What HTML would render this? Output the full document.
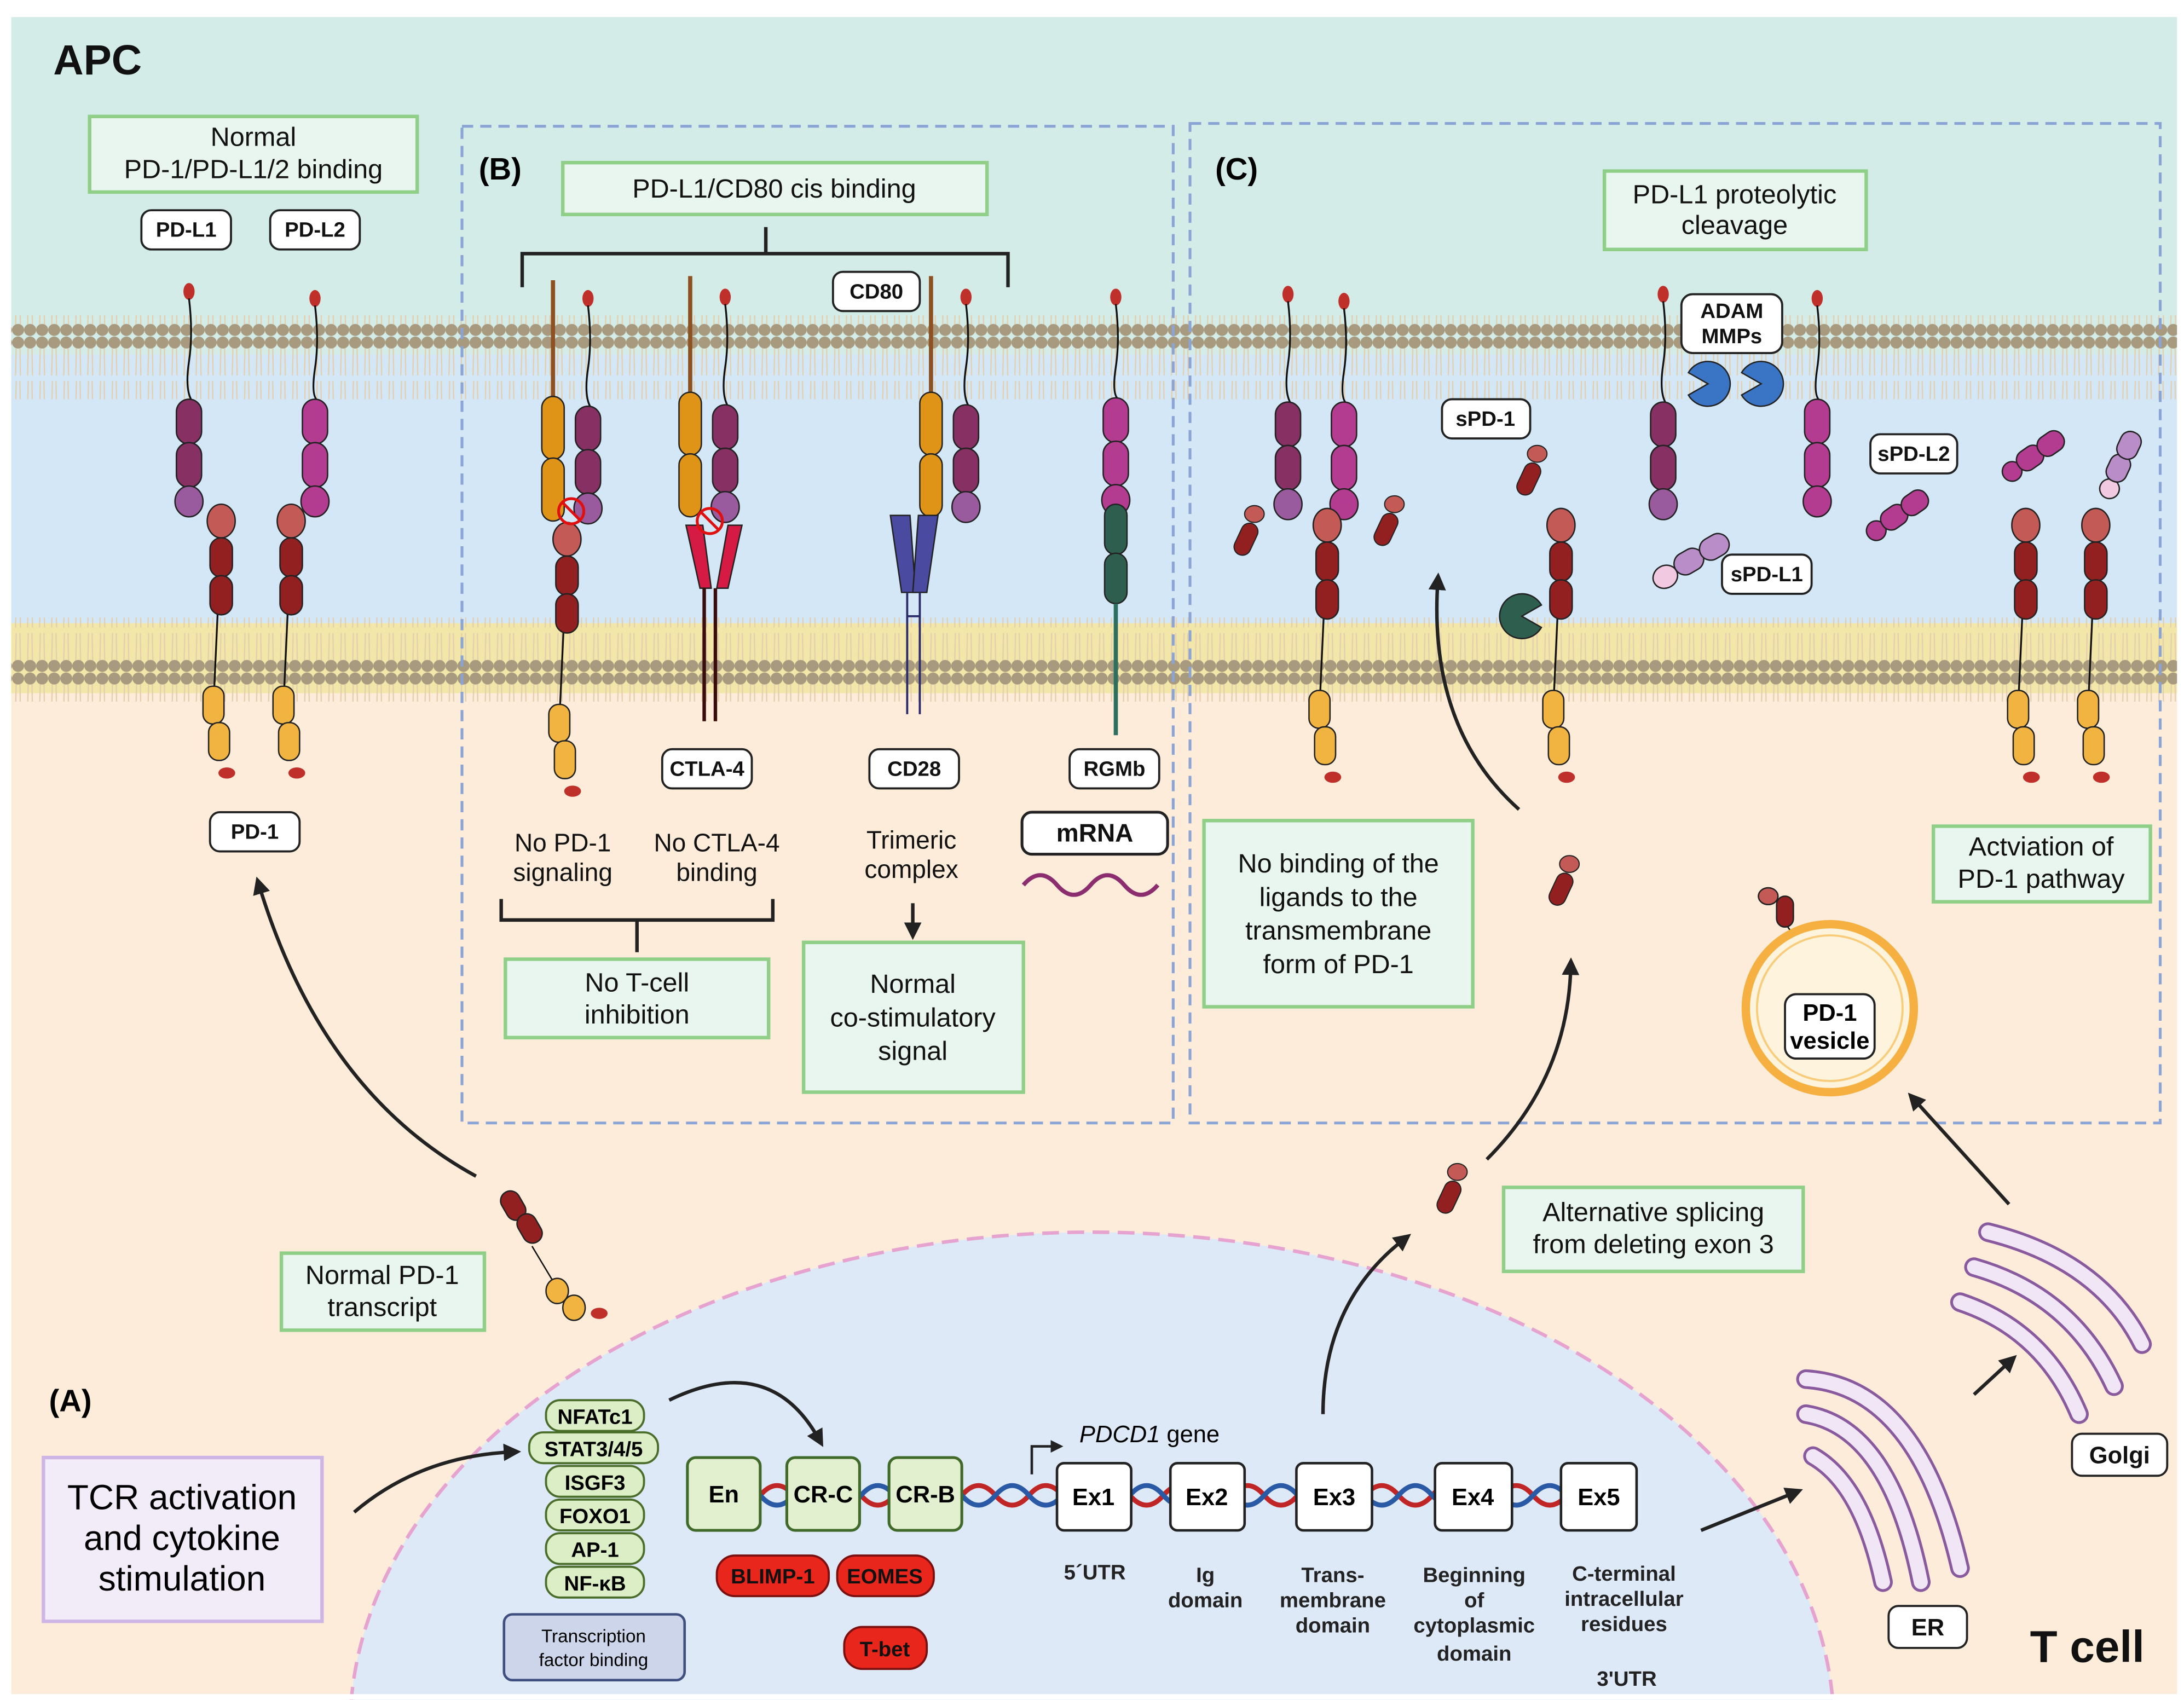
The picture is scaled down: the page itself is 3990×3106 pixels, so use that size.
<!DOCTYPE html>
<html><head><meta charset="utf-8"><style>
html,body{margin:0;padding:0;background:#fff;width:3990px;height:3106px;overflow:hidden}
svg{display:block}
text{font-family:"Liberation Sans",sans-serif}
</style></head><body>
<svg width="3990" height="3106" viewBox="0 0 1560 1214" xmlns="http://www.w3.org/2000/svg">
<defs>
<pattern id="lip" x="0" y="0" width="8.6" height="60" patternUnits="userSpaceOnUse">
<path d="M3 6 L2.5 28 M5.6 6 L6 28 M3 32 L2.5 54 M5.6 32 L6 54" stroke="#e3cfae" stroke-width="0.9" fill="none"/>
<circle cx="4.3" cy="4.5" r="4.3" fill="#a89a7e"/>
<circle cx="4.3" cy="55.5" r="4.3" fill="#a89a7e"/>
</pattern>
<marker id="ah" viewBox="0 0 10 10" refX="5" refY="5" markerWidth="5" markerHeight="5" orient="auto"><path d="M0 0 L10 5 L0 10 z" fill="#222"/></marker>
<g id="pd1">
<line x1="0" y1="10" x2="-5" y2="120" stroke="#111" stroke-width="1.3"/>
<ellipse cx="0" cy="0" rx="10" ry="12" fill="#c45a55" stroke="#222" stroke-width="1"/>
<rect x="-8" y="12" width="16" height="28" rx="8" fill="#922020" stroke="#222" stroke-width="1"/>
<rect x="-8" y="39" width="16" height="28" rx="8" fill="#922020" stroke="#222" stroke-width="1"/>
<rect x="-13" y="118" width="15" height="27" rx="7" fill="#f2b440" stroke="#222" stroke-width="1"/>
<rect x="-9" y="144" width="15" height="27" rx="7" fill="#f2b440" stroke="#222" stroke-width="1"/>
<ellipse cx="4" cy="180" rx="6" ry="4" fill="#c0302a"/>
</g>
<g id="pdl1">
<ellipse cx="0" cy="0" rx="4" ry="6" fill="#c0302a"/>
<path d="M0 5 Q3 30 0 50 T2 78" stroke="#111" stroke-width="1.3" fill="none"/>
<rect x="-9" y="77" width="18" height="32" rx="9" fill="#863064" stroke="#222" stroke-width="1"/>
<rect x="-9" y="108" width="18" height="32" rx="9" fill="#863064" stroke="#222" stroke-width="1"/>
<ellipse cx="0" cy="150" rx="10" ry="11" fill="#9a5a9e" stroke="#222" stroke-width="1"/>
</g>
<g id="pdl2">
<ellipse cx="0" cy="0" rx="4" ry="6" fill="#c0302a"/>
<path d="M0 5 Q3 30 0 50 T2 73" stroke="#111" stroke-width="1.3" fill="none"/>
<rect x="-9" y="72" width="18" height="32" rx="9" fill="#b43c90" stroke="#222" stroke-width="1"/>
<rect x="-9" y="103" width="18" height="32" rx="9" fill="#b43c90" stroke="#222" stroke-width="1"/>
<ellipse cx="0" cy="145" rx="10" ry="11" fill="#b43c90" stroke="#222" stroke-width="1"/>
</g>
<g id="cd80">
<line x1="0" y1="0" x2="0" y2="85" stroke="#8e5222" stroke-width="3"/>
<rect x="-8" y="83" width="16" height="45" rx="8" fill="#df9417" stroke="#222" stroke-width="1"/>
<rect x="-8" y="127" width="16" height="45" rx="8" fill="#df9417" stroke="#222" stroke-width="1"/>
</g>
<g id="sfr">
<rect x="-6" y="-12" width="12" height="24" rx="6" fill="#922020" stroke="#222" stroke-width="0.8" transform="rotate(25)"/>
<ellipse cx="6" cy="-18" rx="7" ry="6" fill="#c45a55" stroke="#222" stroke-width="0.8"/>
</g>
</defs>

<rect width="1560" height="1214" fill="#fff"/>
<rect x="8" y="12" width="1547" height="216" fill="#d3ece8"/>
<rect x="8" y="228" width="1547" height="25" fill="#d3ece8"/>
<rect x="8" y="253" width="1547" height="192" fill="#d3e7f6"/>
<rect x="8" y="445" width="1547" height="50" fill="#f3e6a9"/>
<rect x="8" y="495" width="1547" height="715" fill="#fcecd9"/>
<rect x="8" y="225" width="1547" height="60" fill="url(#lip)"/>
<rect x="8" y="441" width="1547" height="60" fill="url(#lip)"/>

<ellipse cx="780" cy="1235" rx="530" ry="355" fill="#dde9f6" stroke="#e7a3cf" stroke-width="2.5" stroke-dasharray="12 6"/>
<rect x="0" y="1210" width="1560" height="4" fill="#fff"/>

<text x="38" y="53" font-size="30" font-weight="bold" fill="#111">APC</text>
<text x="1450" y="1187" font-size="32" font-weight="bold" fill="#111">T cell</text>

<rect x="330" y="90" width="508" height="712" fill="none" stroke="#8aa4d6" stroke-width="2" stroke-dasharray="8 5"/>
<rect x="850" y="88" width="693" height="714" fill="none" stroke="#8aa4d6" stroke-width="2" stroke-dasharray="8 5"/>
<text x="342" y="128" font-size="22" font-weight="bold">(B)</text>
<text x="868" y="128" font-size="22" font-weight="bold">(C)</text>
<text x="35" y="1008" font-size="22" font-weight="bold">(A)</text>

<g fill="#e9f5ef" stroke="#8fcf87" stroke-width="2.5">
<rect x="64" y="83" width="234" height="54"/>
<rect x="402" y="116" width="303" height="37"/>
<rect x="1146" y="122" width="187" height="56"/>
<rect x="361" y="685" width="188" height="56"/>
<rect x="574" y="673" width="157" height="107"/>
<rect x="860" y="586" width="192" height="133"/>
<rect x="1381" y="590" width="155" height="54"/>
<rect x="201" y="895" width="145" height="55"/>
<rect x="1074" y="848" width="214" height="60"/>
</g>
<g font-size="19" text-anchor="middle" fill="#111">
<text x="181" y="104">Normal</text><text x="181" y="127">PD-1/PD-L1/2 binding</text>
<text x="553" y="141">PD-L1/CD80 cis binding</text>
<text x="1239" y="145">PD-L1 proteolytic</text><text x="1239" y="167">cleavage</text>
<text x="455" y="708">No T-cell</text><text x="455" y="731">inhibition</text>
<text x="652" y="709">Normal</text><text x="652" y="733">co-stimulatory</text><text x="652" y="757">signal</text>
<text x="956" y="623">No binding of the</text><text x="956" y="647">ligands to the</text><text x="956" y="671">transmembrane</text><text x="956" y="695">form of PD-1</text>
<text x="1458" y="611">Actviation of</text><text x="1458" y="634">PD-1 pathway</text>
<text x="273" y="917">Normal PD-1</text><text x="273" y="940">transcript</text>
<text x="1181" y="872">Alternative splicing</text><text x="1181" y="895">from deleting exon 3</text>
<text x="402" y="608" font-size="18">No PD-1</text><text x="402" y="629" font-size="18">signaling</text>
<text x="512" y="608" font-size="18">No CTLA-4</text><text x="512" y="629" font-size="18">binding</text>
<text x="651" y="606" font-size="18">Trimeric</text><text x="651" y="627" font-size="18">complex</text>
</g>

<g fill="#fff" stroke="#222" stroke-width="1.5">
<rect x="101" y="150" width="64" height="28" rx="7"/>
<rect x="193" y="150" width="64" height="28" rx="7"/>
<rect x="150" y="580" width="64" height="28" rx="7"/>
<rect x="595" y="194" width="62" height="28" rx="7"/>
<rect x="473" y="535" width="64" height="28" rx="7"/>
<rect x="621" y="535" width="64" height="28" rx="7"/>
<rect x="764" y="535" width="64" height="28" rx="7"/>
<rect x="730" y="580" width="104" height="30" rx="7" stroke-width="2"/>
<rect x="1030" y="285" width="63" height="28" rx="7"/>
<rect x="1201" y="210" width="72" height="42" rx="8"/>
<rect x="1336" y="310" width="62" height="28" rx="7"/>
<rect x="1230" y="396" width="64" height="28" rx="7"/>
<rect x="1480" y="1024" width="68" height="30" rx="7"/>
<rect x="1349" y="1147" width="56" height="30" rx="7"/>
</g>
<g font-size="15" font-weight="bold" text-anchor="middle" fill="#111">
<text x="133" y="169">PD-L1</text><text x="225" y="169">PD-L2</text><text x="182" y="599">PD-1</text>
<text x="626" y="213">CD80</text><text x="505" y="554">CTLA-4</text><text x="653" y="554">CD28</text><text x="796" y="554">RGMb</text>
<text x="782" y="601" font-size="18">mRNA</text>
<text x="1061" y="304">sPD-1</text><text x="1237" y="227">ADAM</text><text x="1237" y="245">MMPs</text>
<text x="1367" y="329">sPD-L2</text><text x="1262" y="415">sPD-L1</text>
<text x="1514" y="1045" font-size="17">Golgi</text><text x="1377" y="1168" font-size="17">ER</text>
</g>

<path d="M373 205 V181 H720 V205 M547 181 V162" stroke="#222" stroke-width="2.5" fill="none"/>
<path d="M358 642 V657 H552 V642 M455 657 V680" stroke="#222" stroke-width="2.5" fill="none"/>
<path d="M652 645 V665" stroke="#222" stroke-width="2.5" marker-end="url(#ah)"/>
<path d="M731 632 q12 -14 24 0 t24 0 t24 0 t24 0" stroke="#8b2d6e" stroke-width="3" fill="none"/>

<use href="#pdl1" x="135" y="208"/>
<use href="#pdl2" x="225" y="213"/>
<use href="#pd1" x="158" y="372"/>
<use href="#pd1" x="208" y="372"/>

<use href="#cd80" x="395" y="200"/>
<use href="#pdl1" x="420" y="213"/>
<use href="#pd1" x="405" y="385"/>
<circle cx="408" cy="365" r="9" fill="none" stroke="#e01010" stroke-width="2"/><line x1="402" y1="359" x2="414" y2="371" stroke="#e01010" stroke-width="2"/>
<use href="#cd80" x="493" y="197"/>
<use href="#pdl1" x="518" y="212"/>
<path d="M490 375 L500 420 L508 420 L502 375 Z" fill="#d51a44" stroke="#222"/>
<path d="M530 375 L520 420 L512 420 L520 375 Z" fill="#d51a44" stroke="#222"/>
<path d="M503 420 V515 M511 420 V515" stroke="#3a0d0d" stroke-width="2.5"/>
<circle cx="507" cy="372" r="9" fill="none" stroke="#e01010" stroke-width="2"/><line x1="501" y1="366" x2="513" y2="378" stroke="#e01010" stroke-width="2"/>
<use href="#cd80" x="665" y="197"/>
<use href="#pdl1" x="690" y="212"/>
<path d="M636 368 h14 l4 55 h-10 z" fill="#4a4aa0" stroke="#222"/>
<path d="M670 368 h-14 l-4 55 h10 z" fill="#4a4aa0" stroke="#222"/>
<path d="M648 423 V510 M657 423 V510 M648 440 H657" stroke="#2a2a6a" stroke-width="1.5"/>
<use href="#pdl2" x="797" y="212"/>
<rect x="789" y="360" width="16" height="36" rx="8" fill="#2d5e4e" stroke="#222"/>
<rect x="789" y="395" width="16" height="36" rx="8" fill="#2d5e4e" stroke="#222"/>
<line x1="797" y1="431" x2="797" y2="525" stroke="#2d6e5e" stroke-width="3"/>

<use href="#pdl1" x="920" y="210"/>
<use href="#pdl2" x="960" y="215"/>
<use href="#pd1" x="948" y="375"/>
<use href="#sfr" x="890" y="385"/>
<use href="#sfr" x="990" y="378"/>
<use href="#sfr" x="1092" y="342"/>
<use href="#pd1" x="1115" y="375"/>
<path d="M1087 440 m14 -8 a16 16 0 1 0 0 16 L1087 440 Z" fill="#2d5e4e" stroke="#222"/>
<use href="#pdl1" x="1188" y="210"/>
<use href="#pdl2" x="1298" y="213"/>
<path d="M1220 274 m14 -8 a16 16 0 1 0 0 16 L1220 274 Z" fill="#3a74c4" stroke="#222" transform="rotate(180 1220 274)"/>
<path d="M1258 274 m14 -8 a16 16 0 1 0 0 16 L1258 274 Z" fill="#3a74c4" stroke="#222" transform="rotate(180 1258 274)"/>
<g transform="rotate(-30 1200 400)"><ellipse cx="1185" cy="405" rx="9" ry="8" fill="#f1c9e0" stroke="#222"/><rect x="1194" y="396" width="22" height="16" rx="8" fill="#b98dc8" stroke="#222"/><rect x="1215" y="396" width="22" height="16" rx="8" fill="#b98dc8" stroke="#222"/></g>
<g transform="rotate(-35 1350 372)"><ellipse cx="1338" cy="372" rx="7" ry="7" fill="#b43c90" stroke="#222"/><rect x="1344" y="364" width="20" height="15" rx="7" fill="#b43c90" stroke="#222"/><rect x="1362" y="364" width="20" height="15" rx="7" fill="#b43c90" stroke="#222"/></g>
<g transform="rotate(-35 1445 325)"><ellipse cx="1432" cy="330" rx="7" ry="7" fill="#b43c90" stroke="#222"/><rect x="1438" y="322" width="20" height="15" rx="7" fill="#b43c90" stroke="#222"/><rect x="1456" y="322" width="20" height="15" rx="7" fill="#b43c90" stroke="#222"/></g>
<g transform="rotate(-65 1510 335)"><ellipse cx="1496" cy="338" rx="7" ry="7" fill="#f1c9e0" stroke="#222"/><rect x="1502" y="330" width="20" height="15" rx="7" fill="#b98dc8" stroke="#222"/><rect x="1520" y="330" width="20" height="15" rx="7" fill="#b98dc8" stroke="#222"/></g>
<use href="#pd1" x="1447" y="375"/>
<use href="#pd1" x="1497" y="375"/>

<g transform="translate(355,855) rotate(-30)"><rect x="0" y="0" width="14" height="22" rx="7" fill="#922020" stroke="#222"/><rect x="2" y="20" width="14" height="22" rx="7" fill="#922020" stroke="#222"/></g>
<path d="M380 890 L395 915" stroke="#111"/>
<ellipse cx="398" cy="922" rx="8" ry="9" fill="#f2b440" stroke="#222"/><ellipse cx="410" cy="934" rx="8" ry="9" fill="#f2b440" stroke="#222"/><ellipse cx="428" cy="938" rx="6" ry="4" fill="#c0302a"/>
<use href="#sfr" x="1115" y="635"/>
<use href="#sfr" x="1035" y="855"/>
<g transform="translate(1255,640)"><ellipse cx="8" cy="0" rx="7" ry="6" fill="#c45a55" stroke="#222"/><rect x="14" y="0" width="12" height="22" rx="6" fill="#922020" stroke="#222"/><line x1="22" y1="22" x2="35" y2="40" stroke="#111"/><circle cx="42" cy="44" r="7" fill="#f2b440" stroke="#222"/><circle cx="55" cy="48" r="7" fill="#f2b440" stroke="#222"/><ellipse cx="70" cy="45" rx="5" ry="3" fill="#c0302a"/></g>

<circle cx="1307" cy="720" r="60" fill="#fef3dc" stroke="#f5b041" stroke-width="6"/>
<circle cx="1307" cy="720" r="52" fill="none" stroke="#f8cc7a" stroke-width="1.5"/>
<rect x="1275" y="710" width="64" height="46" rx="8" fill="#fff" stroke="#222" stroke-width="1.5"/>
<text x="1307" y="729" font-size="17" font-weight="bold" text-anchor="middle">PD-1</text>
<text x="1307" y="749" font-size="17" font-weight="bold" text-anchor="middle">vesicle</text>

<g stroke="#222" stroke-width="2.5" fill="none" marker-end="url(#ah)">
<path d="M340 840 Q230 780 185 632"/>
<path d="M1085 578 Q1020 520 1027 415"/>
<path d="M1062 828 Q1120 770 1122 690"/>
<path d="M945 1010 Q945 930 1003 885"/>
<path d="M1435 860 L1367 785"/>
<path d="M1215 1093 L1282 1066"/>
<path d="M1410 996 L1436 972"/>
<path d="M253 1080 Q300 1040 366 1037"/>
<path d="M478 1000 Q550 965 585 1028"/>
</g>
<path d="M737 1053 V1033 H755" stroke="#222" stroke-width="1.8" fill="none" marker-end="url(#ah)"/>
<text x="771" y="1030" font-size="17" font-style="italic">PDCD1<tspan font-style="normal"> gene</tspan></text>

<g fill="none" stroke-linecap="round">
<path d="M1420 880 Q1500 900 1530 960" stroke="#8a5a9e" stroke-width="14"/>
<path d="M1420 880 Q1500 900 1530 960" stroke="#f1e6f6" stroke-width="10"/>
<path d="M1410 905 Q1480 925 1510 990" stroke="#8a5a9e" stroke-width="14"/>
<path d="M1410 905 Q1480 925 1510 990" stroke="#f1e6f6" stroke-width="10"/>
<path d="M1400 930 Q1460 950 1485 1010" stroke="#8a5a9e" stroke-width="14"/>
<path d="M1400 930 Q1460 950 1485 1010" stroke="#f1e6f6" stroke-width="10"/>
<path d="M1290 985 Q1370 990 1400 1120" stroke="#8a5a9e" stroke-width="14"/>
<path d="M1290 985 Q1370 990 1400 1120" stroke="#f1e6f6" stroke-width="10"/>
<path d="M1290 1010 Q1350 1020 1372 1130" stroke="#8a5a9e" stroke-width="14"/>
<path d="M1290 1010 Q1350 1020 1372 1130" stroke="#f1e6f6" stroke-width="10"/>
<path d="M1295 1040 Q1330 1060 1345 1130" stroke="#8a5a9e" stroke-width="14"/>
<path d="M1295 1040 Q1330 1060 1345 1130" stroke="#f1e6f6" stroke-width="10"/>
</g>

<rect x="31" y="1041" width="199" height="117" fill="#f2ecf8" stroke="#cdb6e6" stroke-width="2.5"/>
<g font-size="25" text-anchor="middle"><text x="130" y="1078">TCR activation</text><text x="130" y="1107">and cytokine</text><text x="130" y="1136">stimulation</text></g>

<g fill="#dbeec5" stroke="#4a6e2a" stroke-width="1.5">
<rect x="390" y="1000" width="70" height="22" rx="10"/>
<rect x="378" y="1023" width="92" height="22" rx="10"/>
<rect x="390" y="1047" width="70" height="22" rx="10"/>
<rect x="390" y="1071" width="70" height="22" rx="10"/>
<rect x="390" y="1095" width="70" height="22" rx="10"/>
<rect x="390" y="1119" width="70" height="22" rx="10"/>
</g>
<g font-size="15" font-weight="bold" text-anchor="middle">
<text x="425" y="1017">NFATc1</text><text x="424" y="1040">STAT3/4/5</text><text x="425" y="1064">ISGF3</text><text x="425" y="1088">FOXO1</text><text x="425" y="1112">AP-1</text><text x="425" y="1136">NF-κB</text>
</g>
<rect x="360" y="1153" width="129" height="47" rx="6" fill="#ccd5ea" stroke="#3f4f7f" stroke-width="1.8"/>
<text x="424" y="1173" font-size="13" text-anchor="middle">Transcription</text><text x="424" y="1190" font-size="13" text-anchor="middle">factor binding</text>

<path d="M543 1068 q12 -14 24 0 t24 0 t24 0 t24 0 t24 0 t24 0 t24 0 t24 0 t24 0 t24 0 t24 0 t24 0 t24 0 t24 0 t24 0 t24 0 t24 0 t24 0 t24 0 t24 0 t24 0 t24 0 t24 0 t24 0" stroke="#c02626" stroke-width="3.5" fill="none"/>
<path d="M543 1068 q12 14 24 0 t24 0 t24 0 t24 0 t24 0 t24 0 t24 0 t24 0 t24 0 t24 0 t24 0 t24 0 t24 0 t24 0 t24 0 t24 0 t24 0 t24 0 t24 0 t24 0 t24 0 t24 0 t24 0 t24 0" stroke="#2a5aa6" stroke-width="3.5" fill="none"/>
<g fill="#e2f0cf" stroke="#3f6a2a" stroke-width="2">
<rect x="491" y="1041" width="52" height="52" rx="6"/><rect x="562" y="1041" width="52" height="52" rx="6"/><rect x="635" y="1041" width="52" height="52" rx="6"/>
</g>
<g fill="#fff" stroke="#222" stroke-width="1.8">
<rect x="755" y="1045" width="53" height="48" rx="5"/><rect x="836" y="1045" width="53" height="48" rx="5"/><rect x="926" y="1045" width="54" height="48" rx="5"/><rect x="1025" y="1045" width="55" height="48" rx="5"/><rect x="1115" y="1045" width="54" height="48" rx="5"/>
</g>
<g font-size="17" font-weight="bold" text-anchor="middle">
<text x="517" y="1073">En</text><text x="588" y="1073">CR-C</text><text x="661" y="1073">CR-B</text>
<text x="781" y="1075">Ex1</text><text x="862" y="1075">Ex2</text><text x="953" y="1075">Ex3</text><text x="1052" y="1075">Ex4</text><text x="1142" y="1075">Ex5</text>
</g>
<g font-size="15" font-weight="bold" text-anchor="middle" fill="#222">
<text x="782" y="1128">5´UTR</text>
<text x="861" y="1130">Ig</text><text x="861" y="1148">domain</text>
<text x="952" y="1130">Trans-</text><text x="952" y="1148">membrane</text><text x="952" y="1166">domain</text>
<text x="1053" y="1130">Beginning</text><text x="1053" y="1148">of</text><text x="1053" y="1166">cytoplasmic</text><text x="1053" y="1186">domain</text>
<text x="1160" y="1129">C-terminal</text><text x="1160" y="1147">intracellular</text><text x="1160" y="1165">residues</text>
<text x="1162" y="1204">3'UTR</text>
</g>
<g fill="#e8261c" stroke="#7a1010" stroke-width="1.5">
<rect x="512" y="1111" width="80" height="29" rx="13"/><rect x="598" y="1111" width="69" height="29" rx="13"/><rect x="603" y="1162" width="59" height="30" rx="13"/>
</g>
<g font-size="15" font-weight="bold" text-anchor="middle" fill="#111">
<text x="552" y="1131">BLIMP-1</text><text x="632" y="1131">EOMES</text><text x="632" y="1183">T-bet</text>
</g>
</svg>
</body></html>
